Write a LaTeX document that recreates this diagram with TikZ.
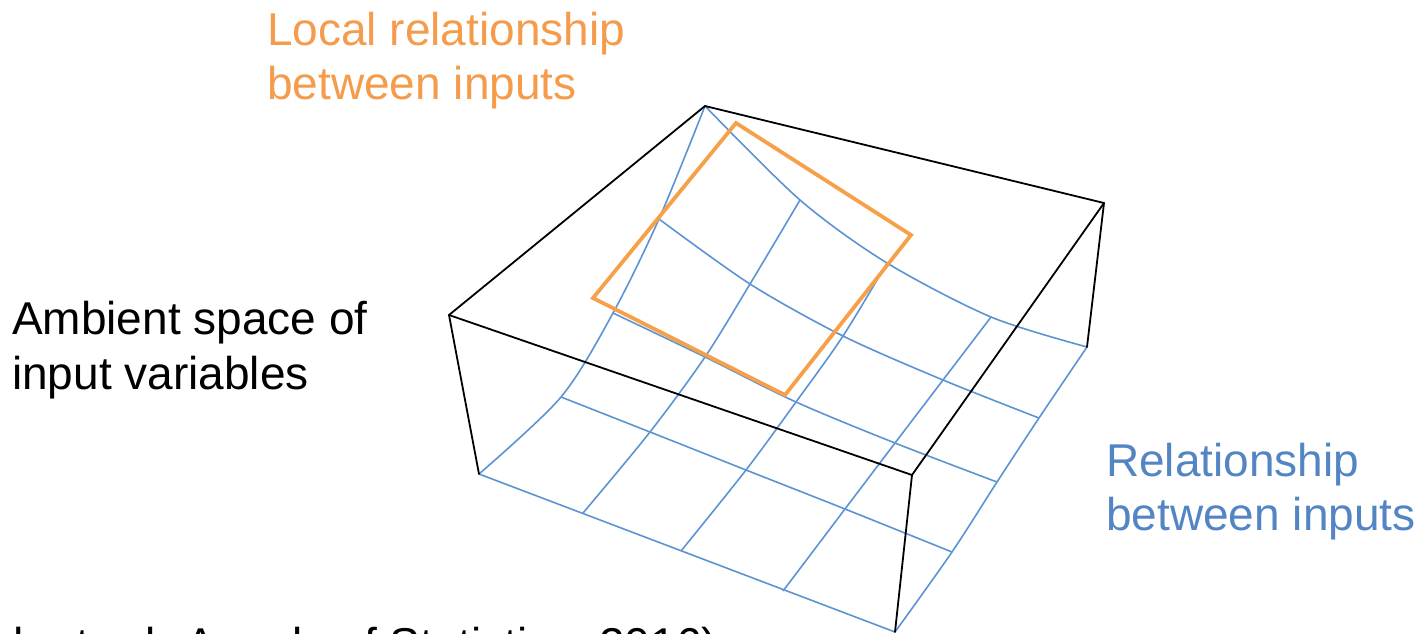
\documentclass[tikz,border=0pt]{standalone}
\usepackage{fontspec}
\setmainfont{Liberation Sans}
\definecolor{gridblue}{HTML}{5B93D3}
\definecolor{txtblue}{HTML}{5384C3}
\definecolor{patchorange}{HTML}{F6A14A}
\definecolor{txtorange}{HTML}{F59C4C}
\begin{document}
\begin{tikzpicture}[x=1pt,y=-1pt,
  boxedge/.style={draw=black,line width=1.8pt,line join=round,line cap=round},
  gridline/.style={draw=gridblue,line width=1.6pt,line join=round},
  patch/.style={draw=patchorange,line width=3.8pt,line join=miter},
  txt/.style={anchor=base west,inner sep=0pt,font=\fontsize{46}{55}\selectfont},
  ortxt/.style={txt,text=txtorange},
  bltxt/.style={txt,text=txtblue},
  bktxt/.style={txt,text=black}]
\useasboundingbox (0,0) rectangle (1428,633);
% box corners
\coordinate (T) at (705,106);
\coordinate (R) at (1104,203);
\coordinate (L) at (449,315);
\coordinate (F) at (912,475);
% grid nodes p<row><col>
\coordinate (p00) at (705,106); \coordinate (p01) at (800,200); \coordinate (p02) at (887,263); \coordinate (p03) at (991,317); \coordinate (p04) at (1087,347);
\coordinate (p10) at (659,219); \coordinate (p11) at (750,284); \coordinate (p12) at (843,336); \coordinate (p13) at (943,380); \coordinate (p14) at (1039,418);
\coordinate (p20) at (613,313); \coordinate (p21) at (705,357); \coordinate (p22) at (796,402); \coordinate (p23) at (895,443); \coordinate (p24) at (997,482);
\coordinate (p30) at (561,397); \coordinate (p31) at (650,432); \coordinate (p32) at (746,470); \coordinate (p33) at (845,509); \coordinate (p34) at (952,552);
\coordinate (p40) at (479,474); \coordinate (p41) at (583,513); \coordinate (p42) at (681,551); \coordinate (p43) at (783,591); \coordinate (p44) at (895,632);
% surface grid
\draw[gridline] plot[smooth] coordinates {(p00) (p01) (p02) (p03) (p04)};
\draw[gridline] plot[smooth] coordinates {(p10) (p11) (p12) (p13) (p14)};
\draw[gridline] plot[smooth] coordinates {(p20) (p21) (p22) (p23) (p24)};
\draw[gridline] plot[smooth] coordinates {(p30) (p31) (p32) (p33) (p34)};
\draw[gridline] (p40) -- (p44);
\draw[gridline] plot[smooth] coordinates {(p00) (p10) (p20) (p30) (p40)};
\draw[gridline] plot[smooth] coordinates {(p01) (p11) (p21) (p31) (p41)};
\draw[gridline] plot[smooth] coordinates {(p02) (p12) (p22) (p32) (p42)};
\draw[gridline] plot[smooth] coordinates {(p03) (p13) (p23) (p33) (p43)};
\draw[gridline] plot[smooth] coordinates {(p04) (p14) (p24) (p34) (p44)};
% box edges
\draw[boxedge] (L) -- (T) -- (R);
\draw[boxedge] (L) -- (F) -- (R);
\draw[boxedge] (L) -- (p40);
\draw[boxedge] (F) -- (p44);
\draw[boxedge] (R) -- (p04);
% orange local patch
\coordinate (q1) at (736,123);
\coordinate (q2) at (911,235);
\coordinate (q3) at (785,395);
\coordinate (q4) at (593,298);
\draw[patch] (q1) -- (q2) -- (q3) -- (q4) -- cycle;
% labels
\node[ortxt] (o1) at (267,45) {Local relationship};
\node[ortxt] (o2) at (267,99) {between inputs};
\node[bktxt] (a1) at (12,334) {Ambient space of};
\node[bktxt] (a2) at (12,389) {input variables};
\node[bltxt] (r1) at (1106,476) {Relationship};
\node[bltxt] (r2) at (1106,530) {between inputs};
\node[bktxt] (cite) at (185,660) {\llap{h et. al. }Annals of Statistics, 2016)};
\end{tikzpicture}
\end{document}
